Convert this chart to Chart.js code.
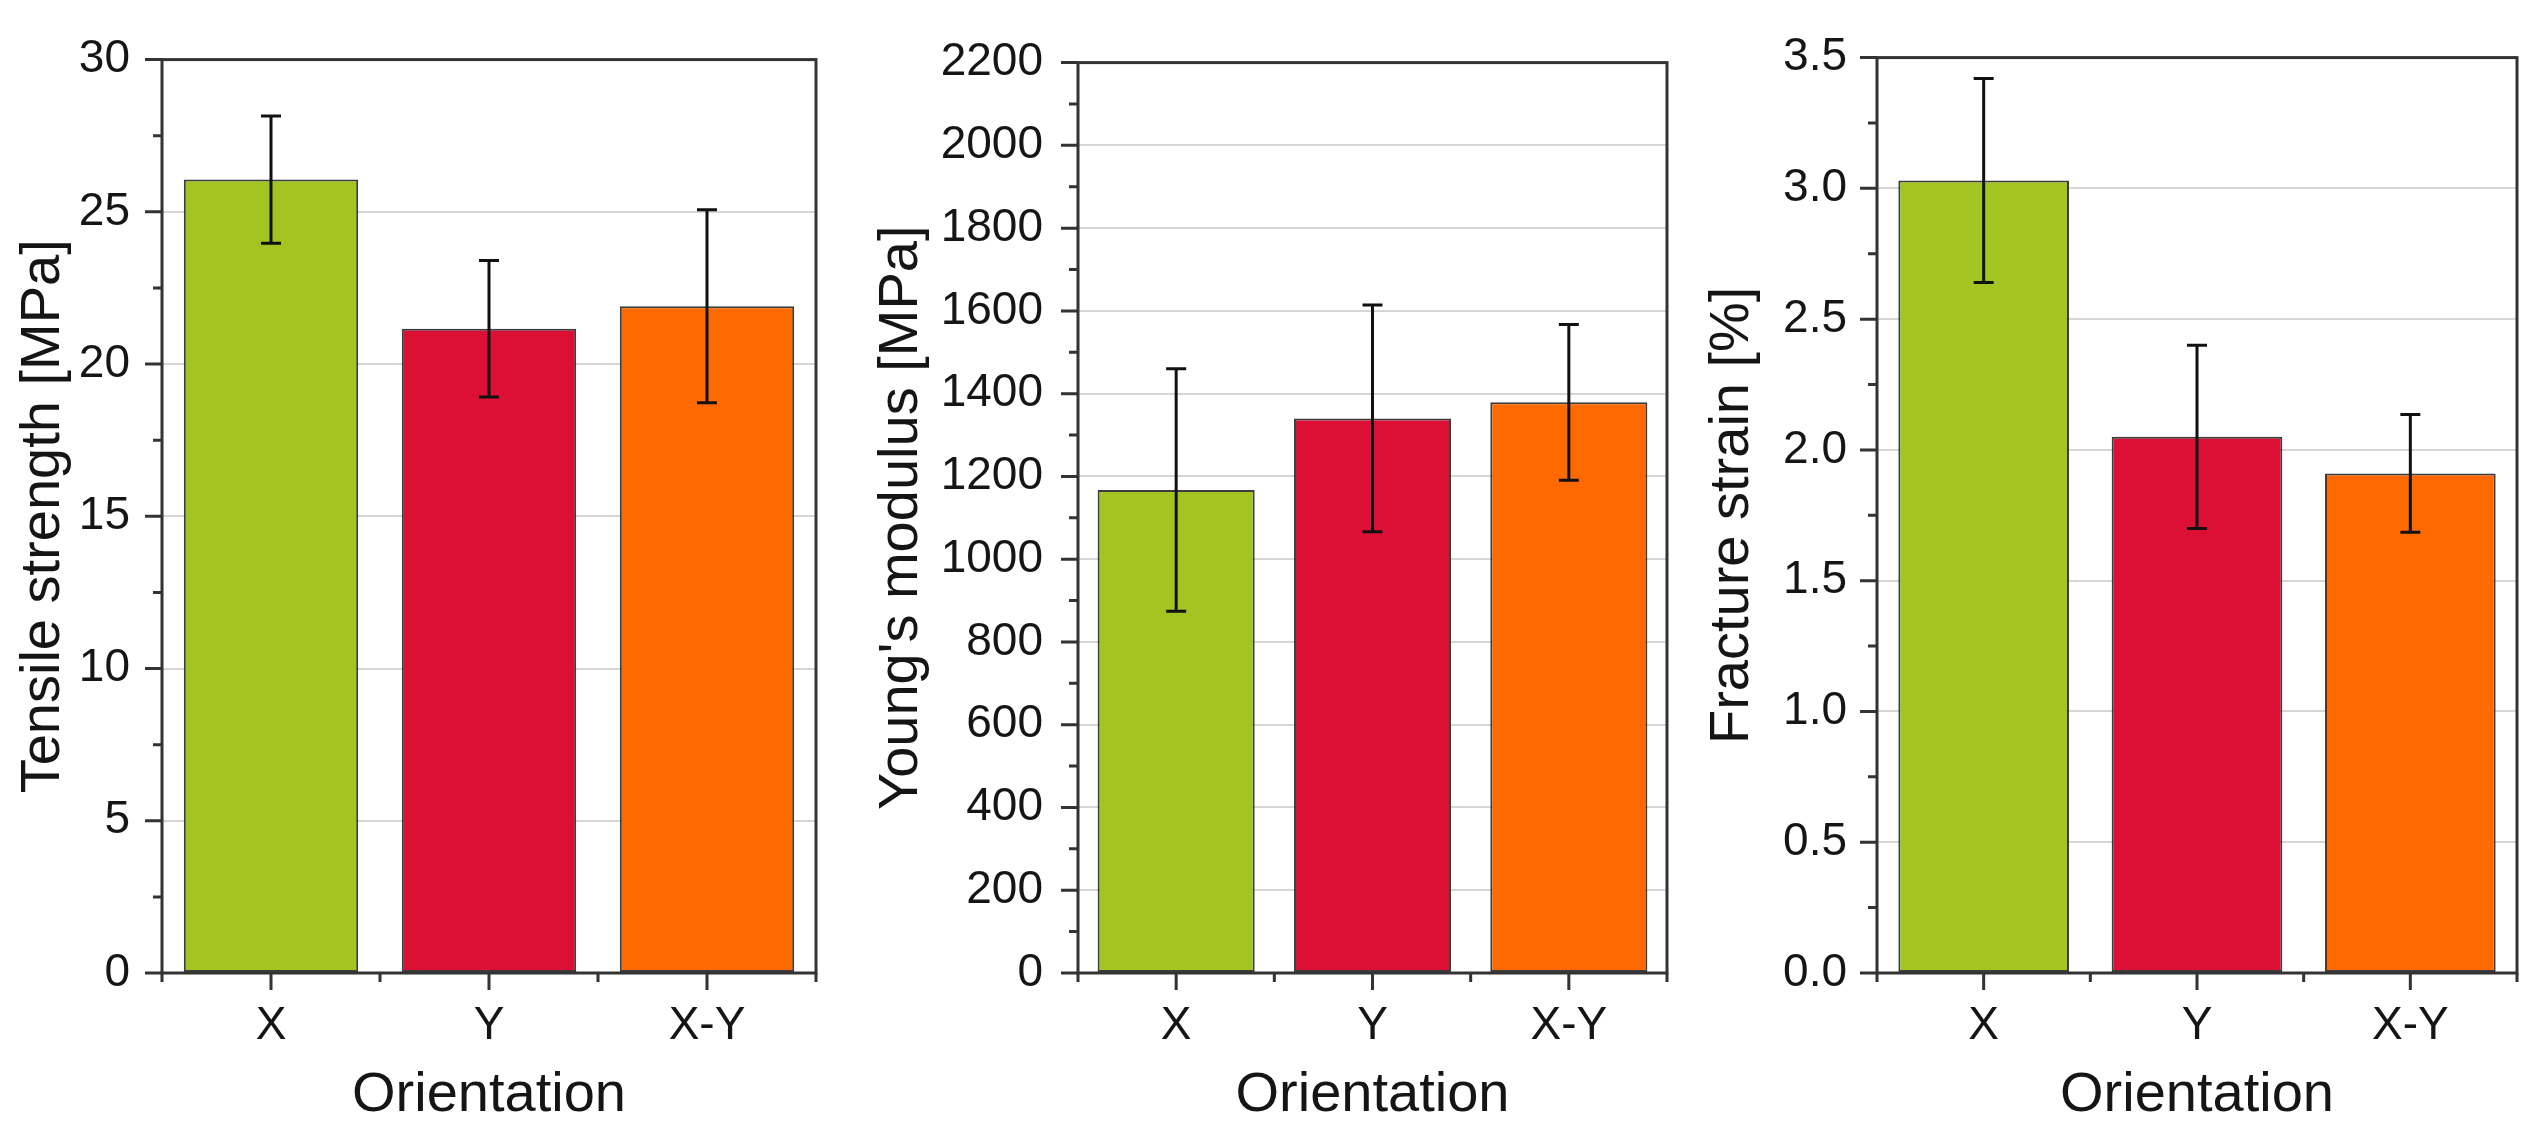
<!DOCTYPE html>
<html>
<head>
<meta charset="utf-8">
<script src="https://cdn.jsdelivr.net/npm/chart.js@4.4.1/dist/chart.umd.min.js"></script>
<style>
  html, body { margin: 0; padding: 0; background: #fff; }
  body { width: 2533px; height: 1135px; position: relative; overflow: hidden; }
  .panel { position: absolute; top: 0; height: 1135px; }
</style>
</head>
<body>
<div class="panel" style="left:0;width:840px"><canvas id="tensile" width="840" height="1135"></canvas></div>
<div class="panel" style="left:840px;width:840px"><canvas id="modulus" width="840" height="1135"></canvas></div>
<div class="panel" style="left:1680px;width:853px"><canvas id="strain" width="853" height="1135"></canvas></div>
<script>
// categories + bar colours
const orientations = ['X', 'Y', 'X-Y'];
const barColors = ['#a3c521', '#dc1035', '#ff6a00'];

// mean values and standard deviations
const tensileMean = [26.06, 21.16, 21.90];
const tensileSd = [2.09, 2.24, 3.17];
const modulusMean = [1167, 1340, 1379];
const modulusSd = [293, 274, 188];
const strainMean = [3.03, 2.05, 1.91];
const strainSd = [0.39, 0.35, 0.225];

const FONT = '"Liberation Sans", Arial, Helvetica, sans-serif';
const INK = '#151515';

// error bars drawn through the y scale
const errorBars = {
    id: 'errorBars',
    afterDatasetsDraw(chart, args, opts) {
        const { ctx } = chart;
        const y = chart.scales.y;
        const meta = chart.getDatasetMeta(0);
        const values = chart.data.datasets[0].data;
        ctx.save();
        ctx.strokeStyle = '#111';
        ctx.lineWidth = 3;
        meta.data.forEach((bar, i) => {
            const top = y.getPixelForValue(values[i] + opts.sd[i]);
            const bot = y.getPixelForValue(values[i] - opts.sd[i]);
            ctx.beginPath();
            ctx.moveTo(bar.x, top); ctx.lineTo(bar.x, bot);
            ctx.moveTo(bar.x - 10, top); ctx.lineTo(bar.x + 10, top);
            ctx.moveTo(bar.x - 10, bot); ctx.lineTo(bar.x + 10, bot);
            ctx.stroke();
        });
        ctx.restore();
    }
};

// box frame + outward major/minor ticks (Origin style)
const frame = {
    id: 'frame',
    afterDraw(chart) {
        const { ctx, chartArea: a } = chart;
        const x = chart.scales.x, y = chart.scales.y;
        ctx.save();
        ctx.strokeStyle = '#333';
        ctx.lineWidth = 3;
        ctx.strokeRect(a.left, a.top, a.right - a.left, a.bottom - a.top);
        ctx.beginPath();
        const ticks = y.ticks.map(t => y.getPixelForValue(t.value));
        ticks.forEach((py, i) => {
            ctx.moveTo(a.left - 17, py); ctx.lineTo(a.left, py);
            if (i > 0) {
                const mid = (py + ticks[i - 1]) / 2;
                ctx.moveTo(a.left - 9, mid); ctx.lineTo(a.left, mid);
            }
        });
        const n = chart.data.labels.length;
        for (let i = 0; i < n; i++) {
            const px = x.getPixelForValue(i);
            ctx.moveTo(px, a.bottom); ctx.lineTo(px, a.bottom + 17);
        }
        const step = (a.right - a.left) / n;
        for (let i = 0; i <= n; i++) {
            const px = a.left + i * step;
            ctx.moveTo(px, a.bottom); ctx.lineTo(px, a.bottom + 9);
        }
        ctx.stroke();
        ctx.restore();
    }
};

function makePanel(id, cfg) {
    const ctx = document.getElementById(id).getContext('2d');
    return new Chart(ctx, {
        type: 'bar',
        data: {
            labels: orientations,
            datasets: [{
                data: cfg.values,
                backgroundColor: barColors,
                borderColor: 'rgba(40,40,40,0.9)',
                borderWidth: 2,
                borderSkipped: false,
                barPercentage: 0.8,
                categoryPercentage: 1.0
            }]
        },
        options: {
            responsive: false,
            animation: false,
            devicePixelRatio: 1,
            layout: { padding: { left: 0, right: cfg.padRight, top: 42, bottom: 0 } },
            plugins: {
                legend: { display: false },
                tooltip: { enabled: false },
                errorBars: { sd: cfg.sd }
            },
            scales: {
                x: {
                    grid: { display: false, drawTicks: false },
                    border: { display: false },
                    ticks: { color: INK, padding: 26, font: { family: FONT, size: 46 } },
                    title: {
                        display: true, text: 'Orientation', color: INK,
                        padding: { top: 0, bottom: 6 },
                        font: { family: FONT, size: 56 }
                    },
                    afterFit: s => { s.height = 162; }
                },
                y: {
                    min: 0, max: cfg.max,
                    grid: { color: '#d6d6d6', lineWidth: 2, drawTicks: false },
                    border: { display: false },
                    ticks: {
                        stepSize: cfg.step, color: INK, padding: cfg.tickPad,
                        font: { family: FONT, size: 46 },
                        callback: v => cfg.fmt(v)
                    },
                    title: {
                        display: true, text: cfg.title, color: INK,
                        padding: { top: cfg.titlePad, bottom: 0 },
                        font: { family: FONT, size: 56 }
                    },
                    afterFit: s => { s.width = cfg.axisWidth; }
                }
            }
        },
        plugins: [errorBars, frame]
    });
}

makePanel('tensile', {
    values: tensileMean, sd: tensileSd, max: 30, step: 5,
    fmt: v => String(v), title: 'Tensile strength [MPa]',
    axisWidth: 162, padRight: 24, tickPad: 32, titlePad: 10
});
makePanel('modulus', {
    values: modulusMean, sd: modulusSd, max: 2200, step: 200,
    fmt: v => String(v), title: "Young's modulus [MPa]",
    axisWidth: 238, padRight: 13, tickPad: 35, titlePad: 28
});
makePanel('strain', {
    values: strainMean, sd: strainSd, max: 3.5, step: 0.5,
    fmt: v => v.toFixed(1), title: 'Fracture strain [%]',
    axisWidth: 197, padRight: 16, tickPad: 30, titlePad: 19
});
</script>
</body>
</html>
